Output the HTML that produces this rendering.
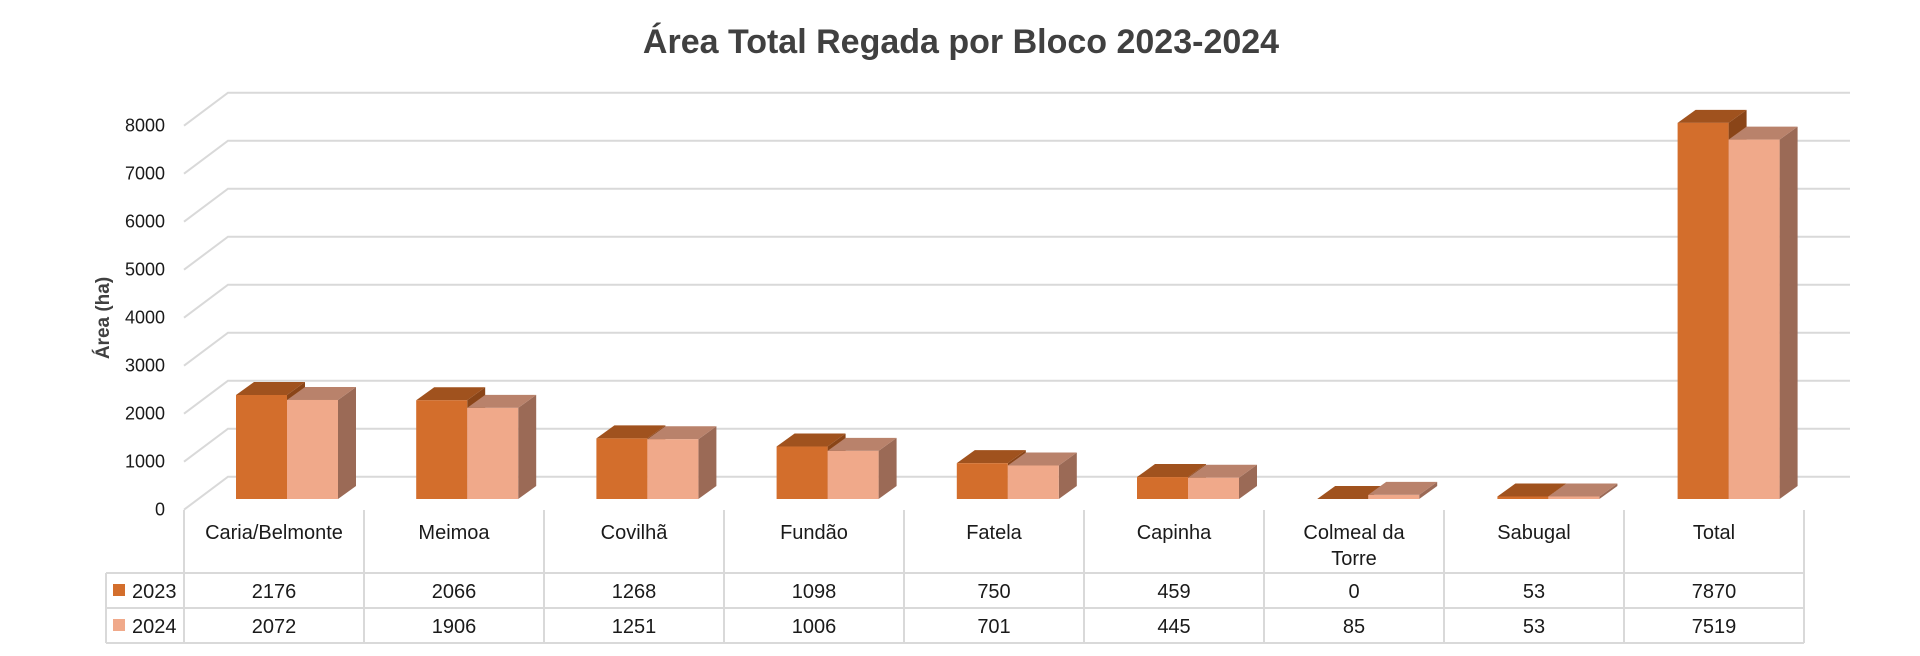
<!DOCTYPE html>
<html><head><meta charset="utf-8"><style>
html,body{margin:0;padding:0;background:#fff;}
svg{display:block;font-family:"Liberation Sans",sans-serif;}
</style></head><body>
<svg width="1920" height="656" viewBox="0 0 1920 656" xmlns="http://www.w3.org/2000/svg">
<text x="961" y="53" text-anchor="middle" font-size="34" font-weight="bold" fill="#404040">Área Total Regada por Bloco 2023-2024</text>
<g stroke="#d9d9d9" stroke-width="2" fill="none" id="grid"></g>
<g id="ticks" font-size="18" fill="#1a1a1a" text-anchor="end"></g>
<text transform="translate(109,318) rotate(-90)" text-anchor="middle" font-size="19" font-weight="bold" fill="#404040">Área (ha)</text>
<g id="bars"></g>
<g id="table" font-size="20" fill="#1a1a1a"></g>
<script>
var NS="http://www.w3.org/2000/svg";
function el(p,t,a,txt){var e=document.createElementNS(NS,t);for(var k in a)e.setAttribute(k,a[k]);if(txt!==undefined)e.textContent=txt;document.getElementById(p).appendChild(e);return e;}
for(var k=0;k<=8;k++){var y=476.7-48*k;
 el("grid","polyline",{points:"184,"+(y+33)+" 228,"+y+" 1850,"+y});
 el("ticks","text",{x:165,y:y+33+6},String(k*1000));}
var cats=["Caria/Belmonte","Meimoa","Covilhã","Fundão","Fatela","Capinha","Colmeal da|Torre","Sabugal","Total"];
var a=[2176,2066,1268,1098,750,459,0,53,7870],b=[2072,1906,1251,1006,701,445,85,53,7519];
var base=499,sc=0.0478,w=51,dx=18,dy=13;
function bar(x,v,front,top,side){var h=v*sc,t=base-h;
 el("bars","polygon",{points:(x+w)+","+base+" "+(x+w+dx)+","+(base-dy)+" "+(x+w+dx)+","+(t-dy)+" "+(x+w)+","+t,fill:side});
 el("bars","polygon",{points:x+","+t+" "+(x+dx)+","+(t-dy)+" "+(x+w+dx)+","+(t-dy)+" "+(x+w)+","+t,fill:top});
 if(h>0)el("bars","rect",{x:x,y:t,width:w,height:h,fill:front});}
for(var i=0;i<9;i++){var c=287+180.2*i;
 bar(c-w,a[i],"#D36E2C","#A0521E","#8A4518");
 bar(c,b[i],"#F0A98A","#B9826B","#9B6A56");}
for(var i=0;i<=9;i++){var x=184+180*i;el("table","line",{x1:x,y1:510,x2:x,y2:643,stroke:"#d9d9d9","stroke-width":2});}
[573,608,643].forEach(function(y){el("table","line",{x1:106,y1:y,x2:1804,y2:y,stroke:"#d9d9d9","stroke-width":2});});
el("table","line",{x1:106,y1:573,x2:106,y2:643,stroke:"#d9d9d9","stroke-width":2});
for(var i=0;i<9;i++){var cx=274+180*i;var p=cats[i].split("|");
 el("table","text",{x:cx,y:539,"text-anchor":"middle"},p[0]);
 if(p[1])el("table","text",{x:cx,y:565,"text-anchor":"middle"},p[1]);
 el("table","text",{x:cx,y:598,"text-anchor":"middle"},String(a[i]));
 el("table","text",{x:cx,y:633,"text-anchor":"middle"},String(b[i]));}
el("table","rect",{x:113,y:584,width:12,height:12,fill:"#D36E2C"});
el("table","rect",{x:113,y:619,width:12,height:12,fill:"#F0A98A"});
el("table","text",{x:132,y:598},"2023");
el("table","text",{x:132,y:633},"2024");
</script>
</svg>
</body></html>
